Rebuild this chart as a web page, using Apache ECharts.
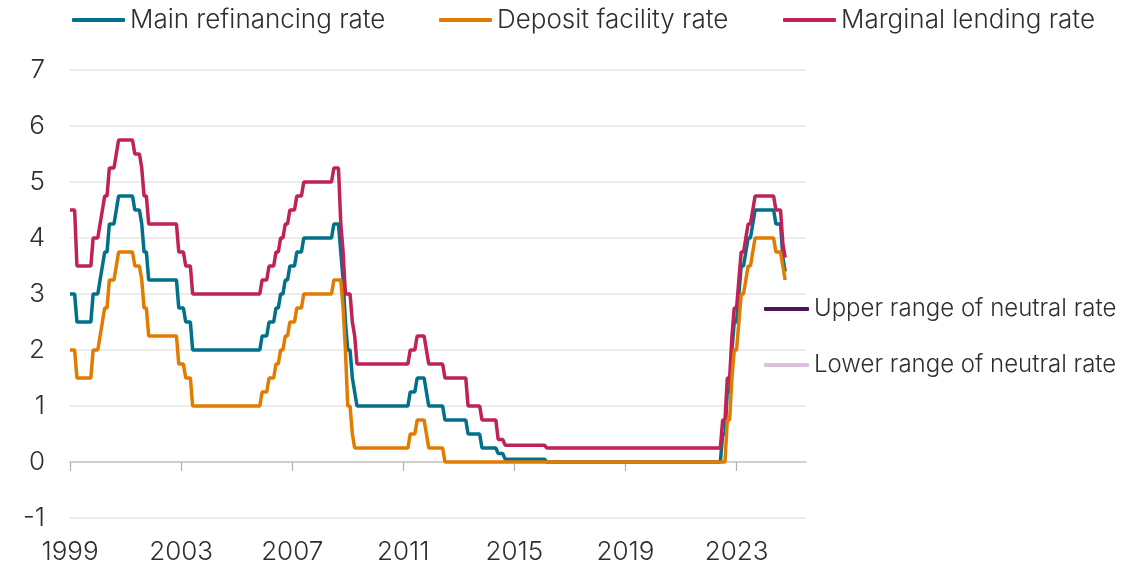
<!DOCTYPE html>
<html>
<head>
<meta charset="utf-8">
<script src="https://cdn.jsdelivr.net/npm/echarts@6/dist/echarts.min.js"></script>
<style>html,body{margin:0;padding:0;background:#fff}#c{width:1145px;height:562px}</style>
</head>
<body>
<div id="c"></div>
<script>
// Monthly end-of-month values, Jan 1999 .. Oct 2024 (one row per year)
const mainRefi = [
 3,3,3,2.5,2.5,2.5,2.5,2.5,2.5,2.5,3,3,
 3,3.25,3.5,3.75,3.75,4.25,4.25,4.25,4.5,4.75,4.75,4.75,
 4.75,4.75,4.75,4.75,4.5,4.5,4.5,4.25,3.75,3.75,3.25,3.25,
 3.25,3.25,3.25,3.25,3.25,3.25,3.25,3.25,3.25,3.25,3.25,2.75,
 2.75,2.75,2.5,2.5,2.5,2,2,2,2,2,2,2,
 2,2,2,2,2,2,2,2,2,2,2,2,
 2,2,2,2,2,2,2,2,2,2,2,2.25,
 2.25,2.25,2.5,2.5,2.5,2.75,2.75,3,3,3.25,3.25,3.5,
 3.5,3.5,3.75,3.75,3.75,4,4,4,4,4,4,4,
 4,4,4,4,4,4,4.25,4.25,4.25,3.75,3.25,2.5,
 2,2,1.5,1.25,1,1,1,1,1,1,1,1,
 1,1,1,1,1,1,1,1,1,1,1,1,
 1,1,1,1.25,1.25,1.25,1.5,1.5,1.5,1.5,1.25,1,
 1,1,1,1,1,1,0.75,0.75,0.75,0.75,0.75,0.75,
 0.75,0.75,0.75,0.75,0.5,0.5,0.5,0.5,0.5,0.5,0.25,0.25,
 0.25,0.25,0.25,0.25,0.25,0.15,0.15,0.15,0.05,0.05,0.05,0.05,
 0.05,0.05,0.05,0.05,0.05,0.05,0.05,0.05,0.05,0.05,0.05,0.05,
 0.05,0.05,0,0,0,0,0,0,0,0,0,0,
 0,0,0,0,0,0,0,0,0,0,0,0,
 0,0,0,0,0,0,0,0,0,0,0,0,
 0,0,0,0,0,0,0,0,0,0,0,0,
 0,0,0,0,0,0,0,0,0,0,0,0,
 0,0,0,0,0,0,0,0,0,0,0,0,
 0,0,0,0,0,0,0.5,0.5,1.25,1.25,2,2.5,
 2.5,3,3.5,3.5,3.75,4,4,4.25,4.5,4.5,4.5,4.5,
 4.5,4.5,4.5,4.5,4.5,4.25,4.25,4.25,3.65,3.4
];
const depositRate = [
 2,2,2,1.5,1.5,1.5,1.5,1.5,1.5,1.5,2,2,
 2,2.25,2.5,2.75,2.75,3.25,3.25,3.25,3.5,3.75,3.75,3.75,
 3.75,3.75,3.75,3.75,3.5,3.5,3.5,3.25,2.75,2.75,2.25,2.25,
 2.25,2.25,2.25,2.25,2.25,2.25,2.25,2.25,2.25,2.25,2.25,1.75,
 1.75,1.75,1.5,1.5,1.5,1,1,1,1,1,1,1,
 1,1,1,1,1,1,1,1,1,1,1,1,
 1,1,1,1,1,1,1,1,1,1,1,1.25,
 1.25,1.25,1.5,1.5,1.5,1.75,1.75,2,2,2.25,2.25,2.5,
 2.5,2.5,2.75,2.75,2.75,3,3,3,3,3,3,3,
 3,3,3,3,3,3,3.25,3.25,3.25,3.25,2.75,2,
 1,1,0.5,0.25,0.25,0.25,0.25,0.25,0.25,0.25,0.25,0.25,
 0.25,0.25,0.25,0.25,0.25,0.25,0.25,0.25,0.25,0.25,0.25,0.25,
 0.25,0.25,0.25,0.5,0.5,0.5,0.75,0.75,0.75,0.75,0.5,0.25,
 0.25,0.25,0.25,0.25,0.25,0.25,0,0,0,0,0,0,
 0,0,0,0,0,0,0,0,0,0,0,0,
 0,0,0,0,0,0,0,0,0,0,0,0,
 0,0,0,0,0,0,0,0,0,0,0,0,
 0,0,0,0,0,0,0,0,0,0,0,0,
 0,0,0,0,0,0,0,0,0,0,0,0,
 0,0,0,0,0,0,0,0,0,0,0,0,
 0,0,0,0,0,0,0,0,0,0,0,0,
 0,0,0,0,0,0,0,0,0,0,0,0,
 0,0,0,0,0,0,0,0,0,0,0,0,
 0,0,0,0,0,0,0,0,0.75,0.75,1.5,2,
 2,2.5,3,3,3.25,3.5,3.5,3.75,4,4,4,4,
 4,4,4,4,4,3.75,3.75,3.75,3.5,3.25
];
const marginalLending = [
 4.5,4.5,4.5,3.5,3.5,3.5,3.5,3.5,3.5,3.5,4,4,
 4,4.25,4.5,4.75,4.75,5.25,5.25,5.25,5.5,5.75,5.75,5.75,
 5.75,5.75,5.75,5.75,5.5,5.5,5.5,5.25,4.75,4.75,4.25,4.25,
 4.25,4.25,4.25,4.25,4.25,4.25,4.25,4.25,4.25,4.25,4.25,3.75,
 3.75,3.75,3.5,3.5,3.5,3,3,3,3,3,3,3,
 3,3,3,3,3,3,3,3,3,3,3,3,
 3,3,3,3,3,3,3,3,3,3,3,3.25,
 3.25,3.25,3.5,3.5,3.5,3.75,3.75,4,4,4.25,4.25,4.5,
 4.5,4.5,4.75,4.75,4.75,5,5,5,5,5,5,5,
 5,5,5,5,5,5,5.25,5.25,5.25,4.25,3.75,3,
 3,3,2.5,2.25,1.75,1.75,1.75,1.75,1.75,1.75,1.75,1.75,
 1.75,1.75,1.75,1.75,1.75,1.75,1.75,1.75,1.75,1.75,1.75,1.75,
 1.75,1.75,1.75,2,2,2,2.25,2.25,2.25,2.25,2,1.75,
 1.75,1.75,1.75,1.75,1.75,1.75,1.5,1.5,1.5,1.5,1.5,1.5,
 1.5,1.5,1.5,1.5,1,1,1,1,1,1,0.75,0.75,
 0.75,0.75,0.75,0.75,0.75,0.4,0.4,0.4,0.3,0.3,0.3,0.3,
 0.3,0.3,0.3,0.3,0.3,0.3,0.3,0.3,0.3,0.3,0.3,0.3,
 0.3,0.3,0.25,0.25,0.25,0.25,0.25,0.25,0.25,0.25,0.25,0.25,
 0.25,0.25,0.25,0.25,0.25,0.25,0.25,0.25,0.25,0.25,0.25,0.25,
 0.25,0.25,0.25,0.25,0.25,0.25,0.25,0.25,0.25,0.25,0.25,0.25,
 0.25,0.25,0.25,0.25,0.25,0.25,0.25,0.25,0.25,0.25,0.25,0.25,
 0.25,0.25,0.25,0.25,0.25,0.25,0.25,0.25,0.25,0.25,0.25,0.25,
 0.25,0.25,0.25,0.25,0.25,0.25,0.25,0.25,0.25,0.25,0.25,0.25,
 0.25,0.25,0.25,0.25,0.25,0.25,0.75,0.75,1.5,1.5,2.25,2.75,
 2.75,3.25,3.75,3.75,4,4.25,4.25,4.5,4.75,4.75,4.75,4.75,
 4.75,4.75,4.75,4.75,4.75,4.5,4.5,4.5,3.9,3.65
];
const upperNeutral = [];
const lowerNeutral = [];
const seriesNames = ['Main refinancing rate','Deposit facility rate','Marginal lending rate','Upper range of neutral rate','Lower range of neutral rate'];
const startYear = 1999, endYear = 2025, endMonth = 7;
const yTicks = [-1,0,1,2,3,4,5,6,7];

// month categories Jan 1999 .. Jul 2025
const months = [];
for (let y = startYear; y <= endYear; y++) {
  for (let m = 1; m <= 12; m++) {
    if (y === endYear && m > endMonth) break;
    months.push(y + '-' + (m < 10 ? '0' + m : m));
  }
}
function isTickMonth(idx, val) {
  const v = months[idx];
  const y = +v.slice(0, 4), m = +v.slice(5);
  return m === 1 && (y - startYear) % 4 === 0;
}

const LEG_FONT = 'Inter';
const AX_FONT = 'Inter';
const TXT = '#2e2e2e';
const colors = ['#00718a', '#e17c00', '#c02257', '#4f1454', '#dcbedd'];

const chart = echarts.init(document.getElementById('c'), null, {renderer: 'canvas'});

function legendAt(name, left, top, w, fs) {
  return {
    data: [name], left: left, top: top, orient: 'horizontal',
    icon: 'roundRect', itemWidth: w, itemHeight: 4, padding: 0,
    textStyle: {fontFamily: LEG_FONT, fontSize: fs, fontWeight: 300, color: TXT},
    selectedMode: false
  };
}

chart.setOption({
  animation: false,
  backgroundColor: '#ffffff',
  color: colors,
  grid: {left: 70, right: 339, top: 70, bottom: 44, containLabel: false, outerBoundsMode: 'none'},
  legend: [
    legendAt(seriesNames[0], 72, 7, 53, 26),
    legendAt(seriesNames[1], 439, 7, 53, 26),
    legendAt(seriesNames[2], 783, 7, 53, 26),
    legendAt(seriesNames[3], 764, 297, 45, 24),
    legendAt(seriesNames[4], 764, 353, 45, 24)
  ],
  xAxis: [
    {
      type: 'category', data: months, boundaryGap: false,
      axisLine: {onZero: true, lineStyle: {color: '#c6c6c6', width: 1.5}},
      axisTick: {show: true, interval: isTickMonth, length: 9, lineStyle: {color: '#b0b0b0', width: 1.2}},
      axisLabel: {show: false},
      splitLine: {show: false}
    },
    {
      type: 'category', data: months, boundaryGap: false, position: 'bottom',
      axisLine: {show: false, onZero: false},
      axisTick: {show: false},
      axisLabel: {
        show: true, interval: isTickMonth, margin: 21,
        formatter: v => v.slice(0, 4),
        fontFamily: AX_FONT, fontSize: 26, fontWeight: 300, color: TXT
      },
      splitLine: {show: false}
    }
  ],
  yAxis: {
    type: 'value', min: yTicks[0], max: yTicks[yTicks.length - 1], interval: 1,
    axisLine: {show: false}, axisTick: {show: false},
    axisLabel: {margin: 25, fontFamily: AX_FONT, fontSize: 26, fontWeight: 300, color: TXT},
    splitLine: {lineStyle: {color: '#e6e6e6', width: 1.5}}
  },
  series: [
    {name: seriesNames[0], type: 'line', data: mainRefi, showSymbol: false, z: 2, lineStyle: {width: 3.5, color: colors[0]}, itemStyle: {color: colors[0]}},
    {name: seriesNames[2], type: 'line', data: marginalLending, showSymbol: false, z: 3, lineStyle: {width: 3.5, color: colors[2]}, itemStyle: {color: colors[2]}},
    {name: seriesNames[1], type: 'line', data: depositRate, showSymbol: false, z: 4, lineStyle: {width: 3.5, color: colors[1]}, itemStyle: {color: colors[1]}},
    {name: seriesNames[3], type: 'line', data: upperNeutral, showSymbol: false, lineStyle: {width: 3.5, color: colors[3]}, itemStyle: {color: colors[3]}},
    {name: seriesNames[4], type: 'line', data: lowerNeutral, showSymbol: false, lineStyle: {width: 3.5, color: colors[4]}, itemStyle: {color: colors[4]}}
  ]
});
</script>
</body>
</html>
